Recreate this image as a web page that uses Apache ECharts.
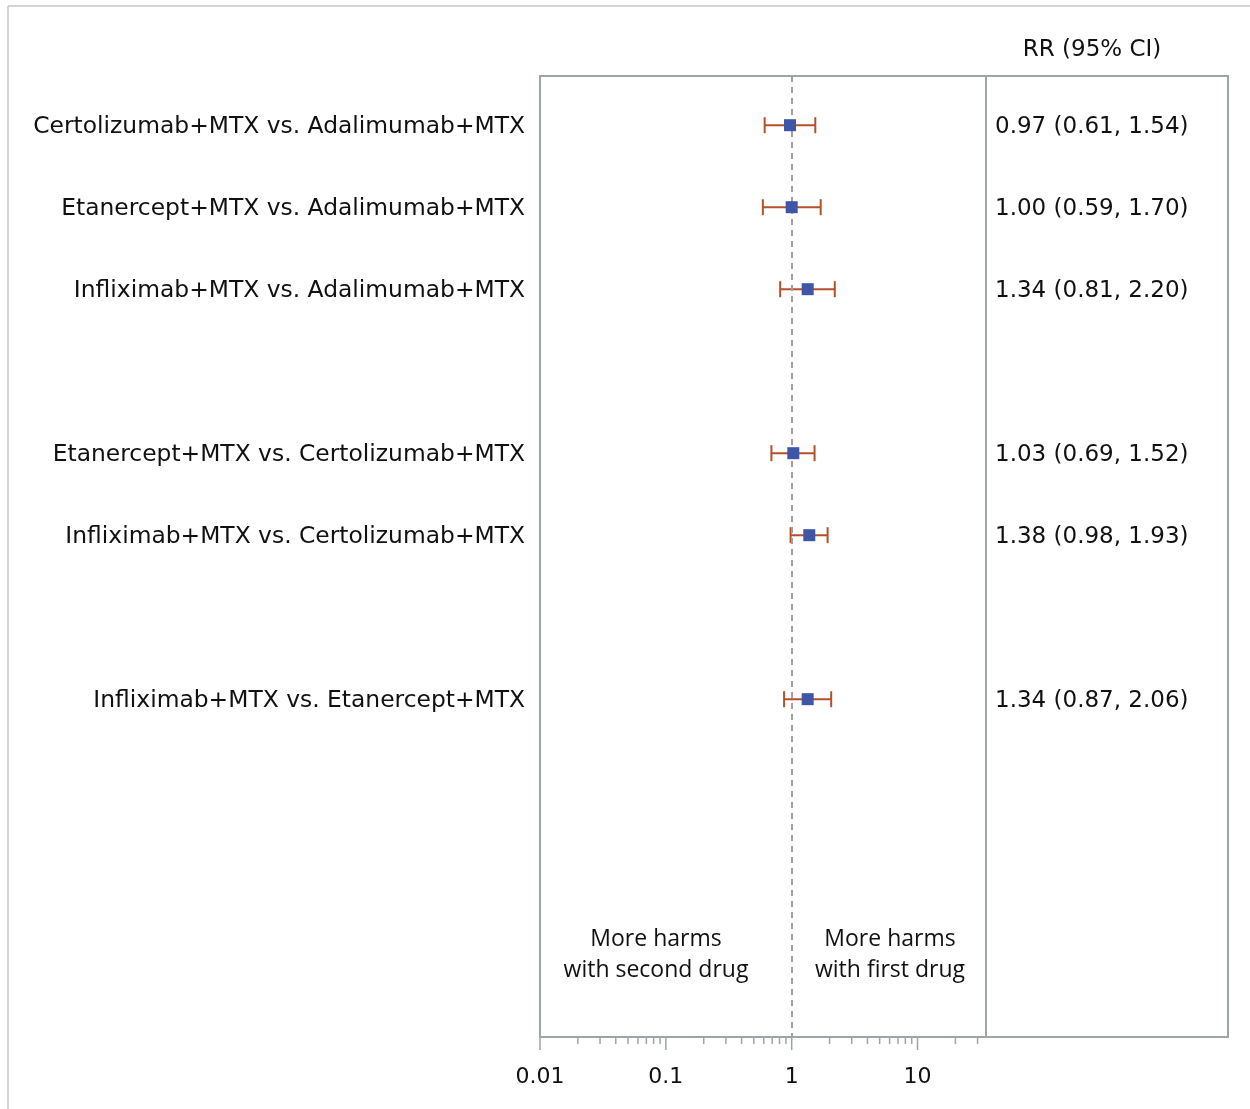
<!DOCTYPE html>
<html><head><meta charset="utf-8">
<script src="https://cdn.jsdelivr.net/npm/echarts@6/dist/echarts.min.js"></script>
<style>html,body{margin:0;padding:0;background:#fff}#c{width:1250px;height:1109px}</style>
</head><body><div id="c"></div>
<script>
const comparisons = [
  'Certolizumab+MTX vs. Adalimumab+MTX',
  'Etanercept+MTX vs. Adalimumab+MTX',
  'Infliximab+MTX vs. Adalimumab+MTX',
  'Etanercept+MTX vs. Certolizumab+MTX',
  'Infliximab+MTX vs. Certolizumab+MTX',
  'Infliximab+MTX vs. Etanercept+MTX'
];
const rowPos = [0, 1, 2, 4, 5, 7];
const rr = [0.97, 1.00, 1.34, 1.03, 1.38, 1.34];
const lower = [0.61, 0.59, 0.81, 0.69, 0.98, 0.87];
const upper = [1.54, 1.70, 2.20, 1.52, 1.93, 2.06];
const rrText = ['0.97 (0.61, 1.54)', '1.00 (0.59, 1.70)', '1.34 (0.81, 2.20)',
                '1.03 (0.69, 1.52)', '1.38 (0.98, 1.93)', '1.34 (0.87, 2.06)'];
const majorTicks = [0.01, 0.1, 1, 10];
const tickLabels = ['0.01', '0.1', '1', '10'];
const minorTicks = [0.02,0.03,0.04,0.05,0.06,0.07,0.08,0.09,
                    0.2,0.3,0.4,0.5,0.6,0.7,0.8,0.9,
                    2,3,4,5,6,7,8,9,20,30];

const FONT = '"DejaVu Sans", sans-serif';
const FONT2 = '"Open Sans", "Noto Sans", sans-serif';
const FS = 23;
const Y_MIN = -0.6, Y_MAX = 11.12;
const X_MIN = 0.01, X_MAX = 35;
const GRAY = '#9ea5a9';
const BLUE = '#3f55a5';
const ORANGE = '#b4512a';
const TXT = '#111';

const chart = echarts.init(document.getElementById('c'));
chart.setOption({
  animation: false,
  grid: [
    {left: 540, width: 446, top: 76, height: 961, show: true, borderColor: GRAY, borderWidth: 2},
    {left: 986, width: 242, top: 76, height: 961, show: true, borderColor: GRAY, borderWidth: 2}
  ],
  xAxis: [
    {type: 'log', logBase: 10, min: X_MIN, max: X_MAX, gridIndex: 0,
     axisLine: {show: true, onZero: false, lineStyle: {color: GRAY, width: 2}},
     axisTick: {show: false}, splitLine: {show: false},
     axisLabel: {fontSize: 22, color: TXT, fontFamily: FONT, margin: 29, showMaxLabel: false,
       formatter: v => { const i = majorTicks.findIndex(t => Math.abs(Math.log10(t) - Math.log10(v)) < 1e-6); return i >= 0 ? tickLabels[i] : ''; }}},
    {type: 'value', min: 0, max: 1, gridIndex: 1, show: false}
  ],
  yAxis: [
    {type: 'value', min: Y_MIN, max: Y_MAX, inverse: true, gridIndex: 0, show: false},
    {type: 'value', min: Y_MIN, max: Y_MAX, inverse: true, gridIndex: 1, show: false}
  ],
  series: [
    // axis ticks (major and minor)
    {type: 'custom', xAxisIndex: 0, yAxisIndex: 0, clip: false, silent: true,
     data: majorTicks.map(v => [v, 13]).concat(minorTicks.map(v => [v, 7])),
     renderItem: (params, api) => {
       const p = api.coord([api.value(0), Y_MAX]);
       return {type: 'line', shape: {x1: p[0], y1: p[1], x2: p[0], y2: p[1] + api.value(1)},
               style: {stroke: GRAY, lineWidth: 1.5}};
     }},
    // row labels
    {type: 'custom', xAxisIndex: 0, yAxisIndex: 0, clip: false, silent: true,
     data: rowPos.map((r, i) => [X_MIN, r, i]),
     renderItem: (params, api) => {
       const p = api.coord([api.value(0), api.value(1)]);
       return {type: 'text', x: p[0] - 15, y: p[1] + 2,
               style: {text: comparisons[api.value(2)], fontSize: 23.4, fontFamily: FONT, fill: TXT,
                       align: 'right', verticalAlign: 'middle'}};
     }},
    // error bars
    {type: 'custom', xAxisIndex: 0, yAxisIndex: 0, silent: true,
     data: rowPos.map((r, i) => [lower[i], upper[i], r]),
     renderItem: (params, api) => {
       const a = api.coord([api.value(0), api.value(2)]);
       const b = api.coord([api.value(1), api.value(2)]);
       const h = 8;
       const st = {stroke: ORANGE, lineWidth: 2};
       return {type: 'group', children: [
         {type: 'line', shape: {x1: a[0], y1: a[1], x2: b[0], y2: b[1]}, style: st},
         {type: 'line', shape: {x1: a[0], y1: a[1] - h, x2: a[0], y2: a[1] + h}, style: st},
         {type: 'line', shape: {x1: b[0], y1: b[1] - h, x2: b[0], y2: b[1] + h}, style: st}
       ]};
     }},
    // point estimates
    {type: 'scatter', xAxisIndex: 0, yAxisIndex: 0, symbol: 'rect', symbolSize: 12,
     itemStyle: {color: BLUE, opacity: 1}, z: 5,
     data: rowPos.map((r, i) => [rr[i], r]),
     markLine: {silent: true, symbol: 'none', label: {show: false},
       lineStyle: {color: '#a0a0a0', type: [6, 5], width: 2},
       data: [{xAxis: 1}]}},
    // RR text column
    {type: 'custom', xAxisIndex: 1, yAxisIndex: 1, clip: false, silent: true,
     data: rowPos.map((r, i) => [0, r, i]),
     renderItem: (params, api) => {
       const p = api.coord([api.value(0), api.value(1)]);
       return {type: 'text', x: p[0] + 9, y: p[1] + 2,
               style: {text: rrText[api.value(2)], fontSize: FS, fontFamily: FONT, fill: TXT,
                       align: 'left', verticalAlign: 'middle'}};
     }}
  ],
  graphic: [
    {type: 'line', shape: {x1: 8, y1: 6, x2: 1250, y2: 6}, style: {stroke: '#d4d4d4', lineWidth: 2}},
    {type: 'line', shape: {x1: 8, y1: 6, x2: 8, y2: 1109}, style: {stroke: '#d4d4d4', lineWidth: 2}},
    {type: 'text', x: 1092, y: 50, style: {text: 'RR (95% CI)', fontSize: FS, fontFamily: FONT, fill: TXT, align: 'center', verticalAlign: 'middle'}},
    {type: 'text', x: 656, y: 955, style: {text: 'More harms\nwith second drug', fontSize: 23, lineHeight: 31, fontFamily: FONT2, fill: TXT, align: 'center', verticalAlign: 'middle'}},
    {type: 'text', x: 890, y: 955, style: {text: 'More harms\nwith first drug', fontSize: 23, lineHeight: 31, fontFamily: FONT2, fill: TXT, align: 'center', verticalAlign: 'middle'}}
  ]
});
</script></body></html>
